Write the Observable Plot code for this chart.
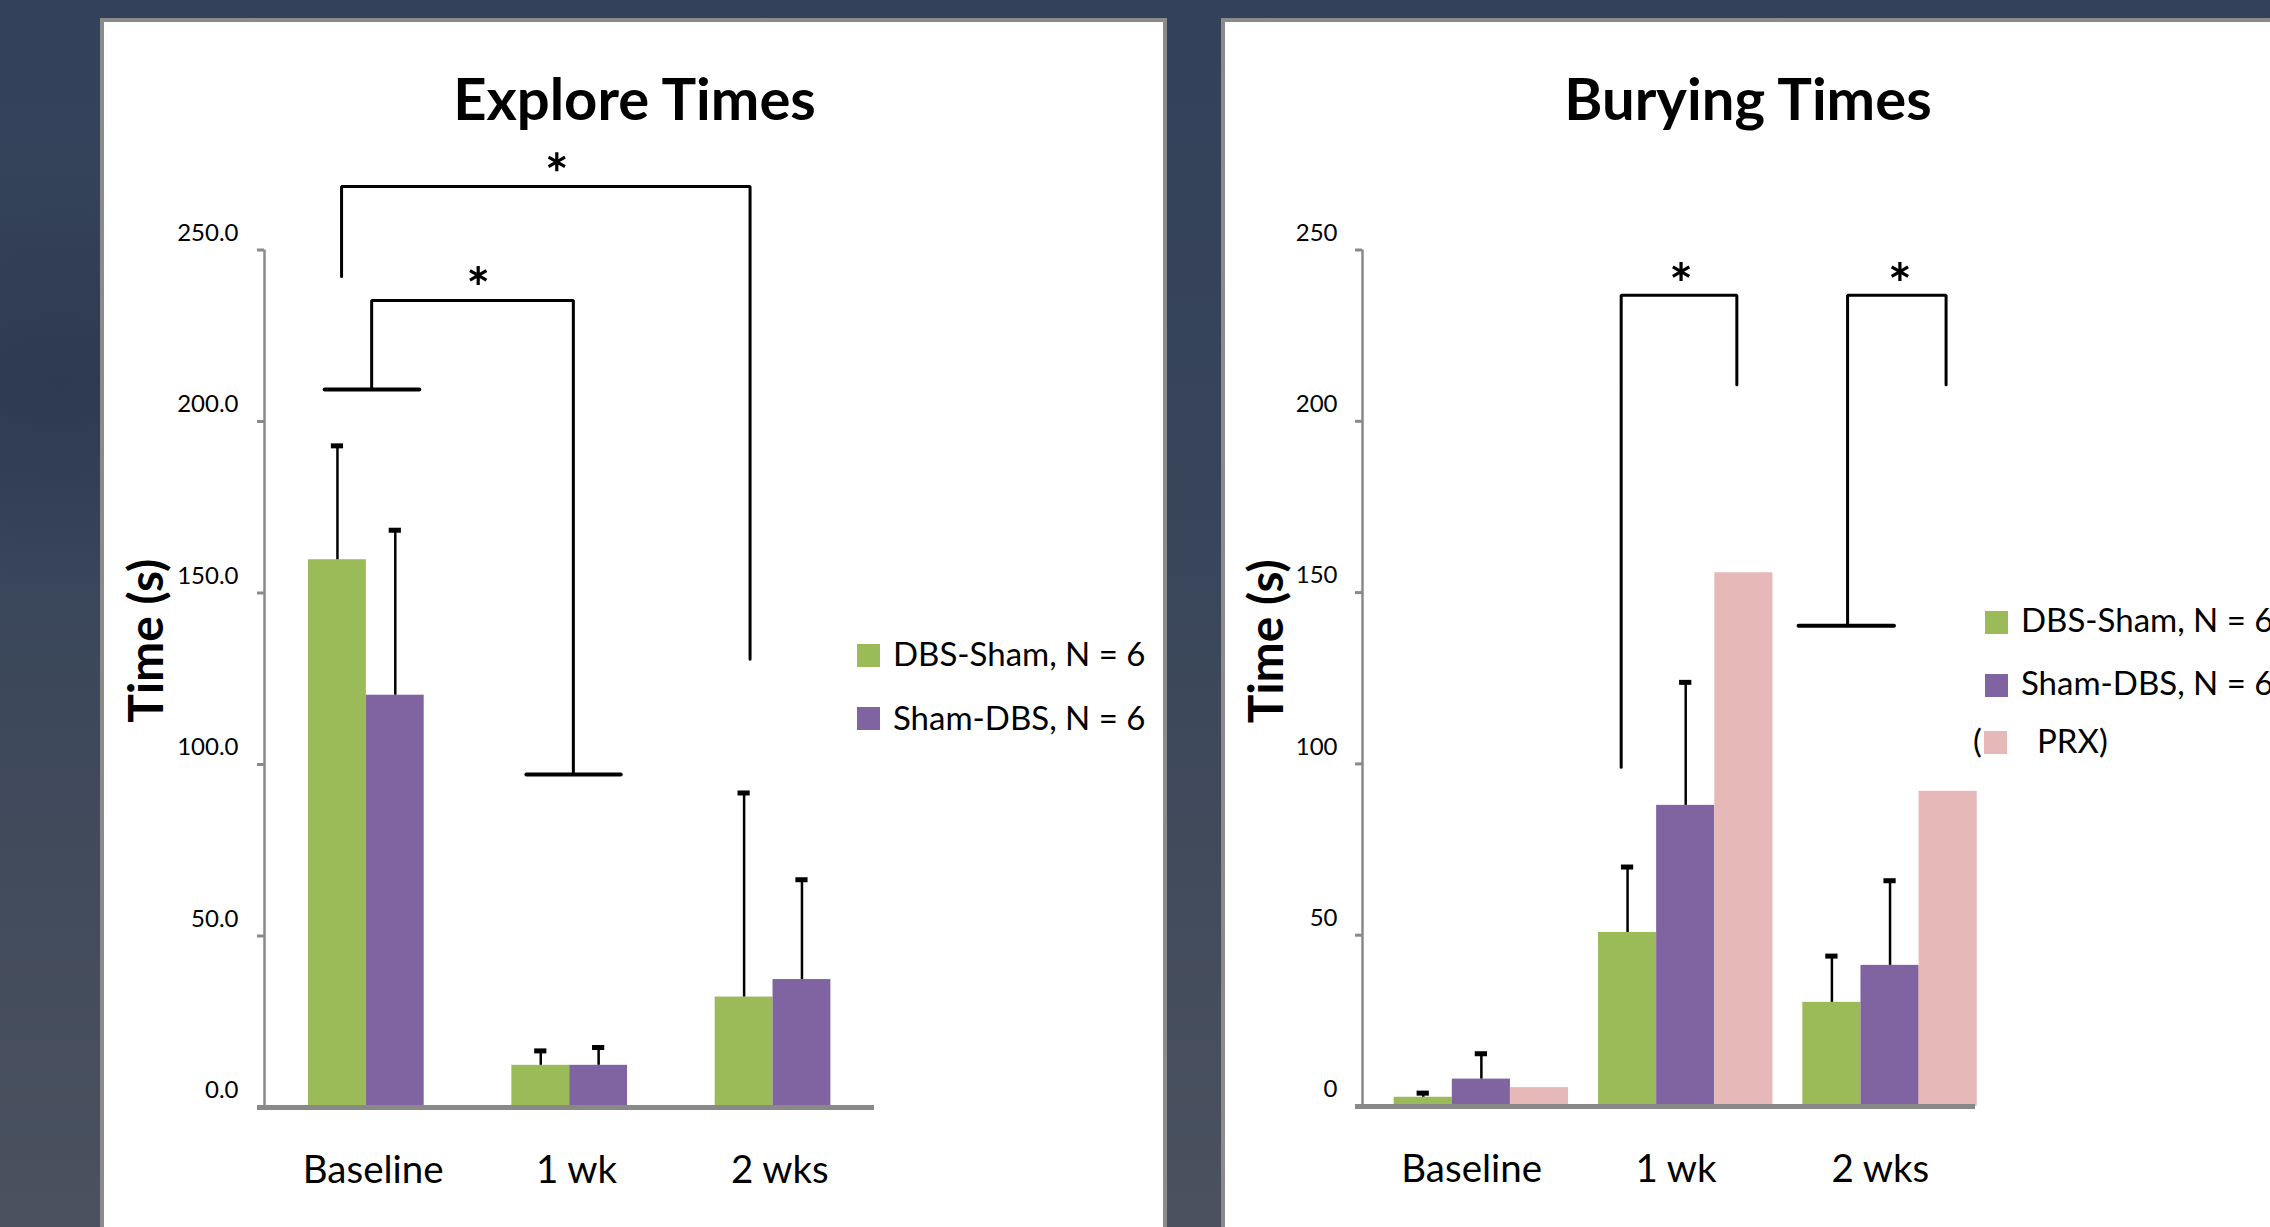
<!DOCTYPE html>
<html><head><meta charset="utf-8">
<script src="https://cdn.jsdelivr.net/npm/d3@7"></script>
<script src="https://cdn.jsdelivr.net/npm/@observablehq/plot@0.6"></script>
<style>
html,body{margin:0;padding:0;}
body{width:2270px;height:1227px;overflow:hidden;position:relative;font-family:Lato,sans-serif;
 background:
  radial-gradient(ellipse 500px 300px at 60px 380px, rgba(30,40,58,0.35), rgba(30,40,58,0) 70%),
  linear-gradient(to bottom, #33415a 0%, #37445a 40%, #434c5c 75%, #4a525f 100%);}
.panel{position:absolute;background:#fff;border:4px solid #8b8b8b;box-sizing:border-box;}
.abs{position:absolute;white-space:nowrap;color:#000;}
.chart{position:absolute;}
.sw{position:absolute;width:23px;height:23px;}
</style></head><body>
<div class="panel" style="left:100px;top:18px;width:1067px;height:1240px"></div>
<div class="panel" style="left:1221px;top:18px;width:1100px;height:1240px"></div>
<script>
// ---------------- data ----------------
const categories = ["Baseline", "1 wk", "2 wks"];
const seriesNames = ["DBS-Sham, N = 6", "Sham-DBS, N = 6", "PRX"];
const seriesColors = ["#9BBB59", "#8064A2", "#E6B9B8"];

// Explore Times (s)
const exploreDbsSham    = [159.7, 12.3, 32.2];
const exploreDbsShamSem = [33.2, 4.2, 59.5];
const exploreShamDbs    = [120.2, 12.3, 37.3];
const exploreShamDbsSem = [48.1, 5.2, 29.1];
const exploreTicks = [0, 50, 100, 150, 200, 250];

// Burying Times (s)
const buryDbsSham    = [2.7, 50.8, 30.4];
const buryDbsShamSem = [1.2, 19.1, 13.5];
const buryShamDbs    = [8.0, 87.9, 41.2];
const buryShamDbsSem = [7.4, 35.9, 24.7];
const buryPrx        = [5.5, 155.8, 92.0];
const buryTicks = [0, 50, 100, 150, 200, 250];

// significance brackets (category position, seconds)
const exploreBrackets = [
  [[0.379, 242.3], [0.379, 268.5], [2.388, 268.5], [2.388, 130.7]],
  [[0.527, 209.3], [0.527, 235.3], [1.519, 235.3], [1.519, 97.1]]
];
const exploreTees = [[[0.296, 209.3], [0.761, 209.3]], [[1.288, 97.1], [1.752, 97.1]]];
const exploreStars = [[1.4375, 275.7], [1.051, 242.6]];

const buryBrackets = [
  [[1.266, 99.0], [1.266, 236.8], [1.832, 236.8], [1.832, 210.7]],
  [[2.374, 140.3], [2.374, 236.8], [2.856, 236.8], [2.856, 210.7]]
];
const buryTees = [[[2.134, 140.3], [2.601, 140.3]]];
const buryStars = [[1.559, 243.7], [2.63, 243.7]];

// ---------------- helpers ----------------
function rowsFrom(seriesVals, seriesSems, offset, barW) {
  const rows = [];
  categories.forEach((c, i) => {
    seriesVals.forEach((vals, k) => {
      const x1 = i + offset + k * barW;
      rows.push({cat: c, series: seriesNames[k], value: vals[i],
        sem: seriesSems[k] ? seriesSems[k][i] : null, x1, x2: x1 + barW, xc: x1 + barW / 2});
    });
  });
  return rows;
}
function flatLines(list) {
  return list.flatMap((pts, j) => pts.map(p => ({x: p[0], y: p[1], g: j})));
}
function place(el, left, top) {
  el.style.position = "absolute"; el.style.left = left + "px"; el.style.top = top + "px";
  document.body.appendChild(el);
}
function textAt(str, x, baseline, fs, weight, center) {
  const d = document.createElement("div");
  d.className = "abs";
  d.textContent = str;
  d.style.fontSize = fs + "px"; d.style.lineHeight = fs + "px";
  if (weight) d.style.fontWeight = weight;
  if (center) d.style.transform = "translateX(-50%)";
  d.style.left = x + "px"; d.style.top = (baseline - 0.887 * fs) + "px";
  document.body.appendChild(d);
}
function swatch(color, x, y) {
  const d = document.createElement("div");
  d.className = "sw"; d.style.background = color; d.style.left = x + "px"; d.style.top = y + "px";
  document.body.appendChild(d);
}

function chart({rows, brackets, tees, stars, ticks, fmt, width, height, mL, mR, mT, mB, padY, labelDx, labelDy}) {
  const errRows = rows.filter(d => d.sem != null);
  const cap = 0.03;
  return Plot.plot({
    width, height, marginLeft: mL, marginRight: mR, marginTop: mT, marginBottom: mB,
    style: {fontFamily: "Lato, sans-serif", background: "transparent", overflow: "visible", color: "#000"},
    x: {domain: [0, 3]},
    y: {domain: [0, 250]},
    color: {domain: seriesNames, range: seriesColors},
    marks: [
      Plot.rectY(rows, {x1: "x1", x2: "x2", y1: 0, y2: "value", fill: "series"}),
      Plot.ruleX([0], {stroke: "#8a8a8a", strokeWidth: 2.5}),
      Plot.axisY({ticks, tickFormat: () => "", tickSize: 7, tickPadding: 0, stroke: "#8a8a8a",
        strokeWidth: 3, label: null}),
      Plot.axisY({ticks, tickFormat: fmt, tickSize: 0, tickPadding: 7 + padY,
        fill: "#000", fontSize: 24, dy: -17, label: null}),
      Plot.axisX({ticks: [0.5, 1.5, 2.5], tickFormat: d => categories[Math.floor(d)], tickSize: 0,
        tickPadding: 48, fontSize: 38.5, fill: "#000", dx: 7, label: null}),
      Plot.ruleY([0], {stroke: "#898989", strokeWidth: 5, insetLeft: -7}),
      Plot.ruleX(errRows, {x: "xc", y1: "value", y2: d => d.value + d.sem, stroke: "#000", strokeWidth: 2.5}),
      Plot.ruleY(errRows, {y: d => d.value + d.sem, x1: d => d.xc - cap, x2: d => d.xc + cap, stroke: "#000", strokeWidth: 5}),
      Plot.line(flatLines(brackets), {x: "x", y: "y", z: "g", stroke: "#000", strokeWidth: 3, strokeLinejoin: "miter"}),
      Plot.line(flatLines(tees), {x: "x", y: "y", z: "g", stroke: "#000", strokeWidth: 4, strokeLinecap: "round"}),
      Plot.dot(stars, {x: d => d[0], y: d => d[1], symbol: "asterisk", r: 9, stroke: "#000", strokeWidth: 3.2}),
      Plot.text(["Time (s)"], {frameAnchor: "left", textAnchor: "middle", rotate: -90, dx: labelDx, dy: labelDy,
        fontSize: 48, fontWeight: "bold", fill: "#000"})
    ]
  });
}

// ---------------- left: Explore Times ----------------
const exploreRows = rowsFrom([exploreDbsSham, exploreShamDbs], [exploreDbsShamSem, exploreShamDbsSem], 0.2165, 0.2845);
const c1 = chart({rows: exploreRows, brackets: exploreBrackets, tees: exploreTees, stars: exploreStars,
  ticks: exploreTicks, fmt: d => d.toFixed(1), width: 780, height: 1060, mL: 144, mR: 26, mT: 119.5, mB: 83,
  padY: 19, labelDx: -117, labelDy: -38});
place(c1, 120, 130);
textAt("Explore Times", 634.5, 120, 58, 700, true);
swatch(seriesColors[0], 857, 644);
textAt(seriesNames[0], 893, 666, 33);
swatch(seriesColors[1], 857, 707);
textAt(seriesNames[1], 893, 730, 33);

// ---------------- right: Burying Times ----------------
const buryRows = rowsFrom([buryDbsSham, buryShamDbs, buryPrx], [buryDbsShamSem, buryShamDbsSem, null], 0.155, 0.2845);
const c2 = chart({rows: buryRows, brackets: buryBrackets, tees: buryTees, stars: buryStars,
  ticks: buryTicks, fmt: d => String(d), width: 761, height: 1060, mL: 122, mR: 26, mT: 119.5, mB: 84,
  padY: 18, labelDx: -95, labelDy: -37});
place(c2, 1240, 130);
textAt("Burying Times", 1748, 120, 58, 700, true);
swatch(seriesColors[0], 1985, 611);
textAt(seriesNames[0], 2021, 632, 33);
swatch(seriesColors[1], 1985, 674);
textAt(seriesNames[1], 2021, 695, 33);
swatch(seriesColors[2], 1984, 731);
textAt("(", 1973, 753, 33);
textAt(seriesNames[2] + ")", 2037, 753, 33);
</script>
</body></html>
